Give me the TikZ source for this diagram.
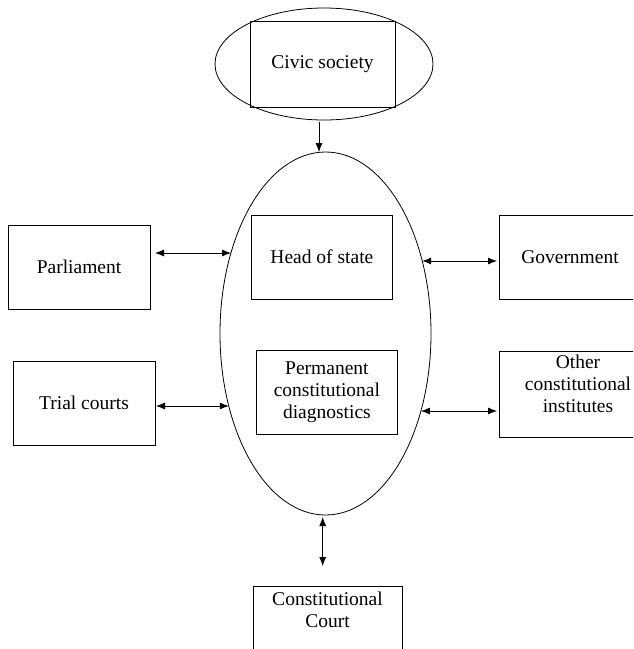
\documentclass[tikz,border=0pt]{standalone}
\usepackage{fontspec}
\setmainfont{Liberation Serif}
\usetikzlibrary{shapes.geometric,arrows.meta}
\begin{document}
\begin{tikzpicture}[x=1pt,y=-1pt,
  txt/.style={font=\fontsize{19.5}{22}\selectfont, align=center},
  box/.style={txt, draw, line width=0.8pt, inner sep=0pt},
  oval/.style={draw, ellipse, line width=0.8pt, inner sep=0pt},
  both/.style={line width=0.8pt, {Latex[length=9pt,width=7pt]}-{Latex[length=9pt,width=7pt]}},
  one/.style={line width=0.8pt, -{Latex[length=9pt,width=7pt]}}]
\clip (0,0) rectangle (633,649);
\fill[white] (0,0) rectangle (633,649);
% top ellipse and civic society
\node[oval, minimum width=218pt, minimum height=112pt] (top) at (324,64) {};
\node[box, minimum width=145pt, minimum height=86pt] (civic) at (322.5,64) {Civic society};
% big ellipse
\node[oval, minimum width=211pt, minimum height=363pt] (big) at (325.5,333.5) {};
\node[box, minimum width=141.7pt, minimum height=84pt] (head) at (321.9,257) {Head of state};
\node[box, minimum width=141.7pt, minimum height=84pt] (perm) at (326.9,392) {Permanent\\constitutional\\diagnostics};
% left boxes
\node[box, minimum width=142pt, minimum height=84pt] (parl) at (79,267) {Parliament};
\node[box, minimum width=142pt, minimum height=84pt] (trial) at (84,403) {Trial courts};
% right boxes
\node[box, minimum width=142pt, minimum height=84pt] (gov) at (570,257) {Government};
\node[box, minimum width=158pt, anchor=north, inner ysep=4pt, text depth=20.5pt] (other) at (578,351) {Other\\constitutional\\institutes};
% bottom box
\node[box, minimum width=149pt, anchor=north, inner ysep=5.5pt, text depth=40pt] (court) at (327.5,586) {Constitutional\\Court};
% connector end points
\coordinate (civA) at (319,122);
\coordinate (civB) at (319,152);
\coordinate (pl) at (155,253);
\coordinate (pe) at (231,253);
\coordinate (tl) at (156,406);
\coordinate (te) at (228.8,406);
\coordinate (ge) at (422.2,261);
\coordinate (gr) at (497,261);
\coordinate (oe) at (420.9,411);
\coordinate (orr) at (497,411);
\coordinate (bA) at (322.7,517);
\coordinate (bB) at (322.7,566);
% connectors
\draw[one] (civA) -- (civB);
\draw[both] (pl) -- (pe);
\draw[both] (tl) -- (te);
\draw[both] (ge) -- (gr);
\draw[both] (oe) -- (orr);
\draw[both] (bA) -- (bB);
\end{tikzpicture}
\end{document}
